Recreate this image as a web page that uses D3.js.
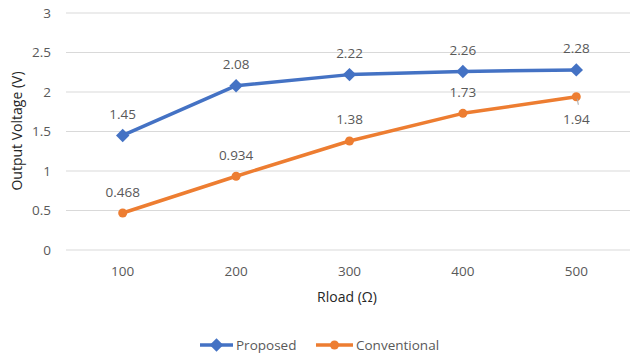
<!DOCTYPE html>
<html><head><meta charset="utf-8">
<script src="https://cdn.jsdelivr.net/npm/d3@7"></script>
<style>body{margin:0;background:#fff}svg{display:block}text{font-family:"Open Sans","Noto Sans",sans-serif;fill:#595959}</style>
</head><body>
<script>
const categories = ["100","200","300","400","500"];
const proposed = [1.45, 2.08, 2.22, 2.26, 2.28];
const conventional = [0.468, 0.934, 1.38, 1.73, 1.94];
const proposedLabels = ["1.45","2.08","2.22","2.26","2.28"];
const conventionalLabels = ["0.468","0.934","1.38","1.73","1.94"];
const yTicks = [0, 0.5, 1, 1.5, 2, 2.5, 3];

const W = 630, H = 358;
const svg = d3.select("body").append("svg").attr("width", W).attr("height", H);
const x = d3.scaleBand().domain(categories).range([66, 633]);
const y = d3.scaleLinear().domain([0, 3]).range([250, 13]);
const cx = d => x(d) + x.bandwidth() / 2;

// gridlines
svg.append("g").selectAll("line").data(yTicks).join("line")
  .attr("x1", 66).attr("x2", 630).attr("y1", d => y(d)).attr("y2", d => y(d))
  .attr("stroke", "#d9d9d9").attr("stroke-width", 1);

// y tick labels
svg.append("g").selectAll("text").data(yTicks).join("text")
  .attr("x", 51).attr("y", d => y(d)).attr("dy", "0.35em").attr("text-anchor", "end")
  .attr("font-size", 13.5).text(d => d);

// x tick labels
svg.append("g").selectAll("text").data(categories).join("text")
  .attr("x", d => cx(d)).attr("y", 276).attr("text-anchor", "middle")
  .attr("font-size", 13.5).text(d => d);

// axis titles
svg.append("text").attr("x", 347).attr("y", 302).attr("text-anchor", "middle")
  .attr("font-size", 14).style("fill", "#262626").text("Rload (Ω)");
svg.append("text").attr("transform", "translate(22,131) rotate(-90)").attr("text-anchor", "middle")
  .attr("font-size", 14).style("fill", "#262626").text("Output Voltage (V)");

const line = d3.line().x((d, i) => cx(categories[i])).y(d => y(d));
const blue = "#4472C4", orange = "#ED7D31";

svg.append("path").datum(conventional).attr("d", line).attr("fill", "none")
  .attr("stroke", orange).attr("stroke-width", 3.5).attr("stroke-linejoin", "round");
svg.append("path").datum(proposed).attr("d", line).attr("fill", "none")
  .attr("stroke", blue).attr("stroke-width", 3.5).attr("stroke-linejoin", "round");

const diamond = d3.symbol().type(d3.symbolDiamond2).size(115);
svg.append("g").selectAll("circle").data(conventional).join("circle")
  .attr("cx", (d, i) => cx(categories[i])).attr("cy", d => y(d)).attr("r", 4.5).attr("fill", orange);
svg.append("g").selectAll("path").data(proposed).join("path")
  .attr("d", diamond).attr("transform", (d, i) => `translate(${cx(categories[i])},${y(d)})`)
  .attr("fill", blue);

// data labels
svg.append("g").selectAll("text").data(proposed).join("text")
  .attr("x", (d, i) => cx(categories[i])).attr("y", d => y(d) - 16.5).attr("text-anchor", "middle")
  .attr("font-size", 13.5).text((d, i) => proposedLabels[i]);
svg.append("g").selectAll("text").data(conventional).join("text")
  .attr("x", (d, i) => cx(categories[i])).attr("y", (d, i) => i === 4 ? y(d) + 27 : y(d) - 16.5)
  .attr("text-anchor", "middle").attr("font-size", 13.5).text((d, i) => conventionalLabels[i]);
// leader line for last conventional label
svg.append("line").attr("x1", cx(categories[4]) + 1).attr("x2", cx(categories[4]) + 2)
  .attr("y1", y(conventional[4]) + 2).attr("y2", y(conventional[4]) + 8)
  .attr("stroke", "#a6a6a6").attr("stroke-width", 1);

// legend
const lg = svg.append("g");
lg.append("line").attr("x1", 200).attr("x2", 233).attr("y1", 345).attr("y2", 345).attr("stroke", blue).attr("stroke-width", 3.5);
lg.append("path").attr("d", diamond).attr("transform", "translate(216.5,345)").attr("fill", blue);
lg.append("text").attr("x", 236).attr("y", 345).attr("dy", "0.35em").attr("font-size", 13.5).text("Proposed");
lg.append("line").attr("x1", 316).attr("x2", 353).attr("y1", 345).attr("y2", 345).attr("stroke", orange).attr("stroke-width", 3.5);
lg.append("circle").attr("cx", 334.5).attr("cy", 345).attr("r", 4.5).attr("fill", orange);
lg.append("text").attr("x", 356).attr("y", 345).attr("dy", "0.35em").attr("font-size", 13.5).text("Conventional");
</script>
</body></html>
